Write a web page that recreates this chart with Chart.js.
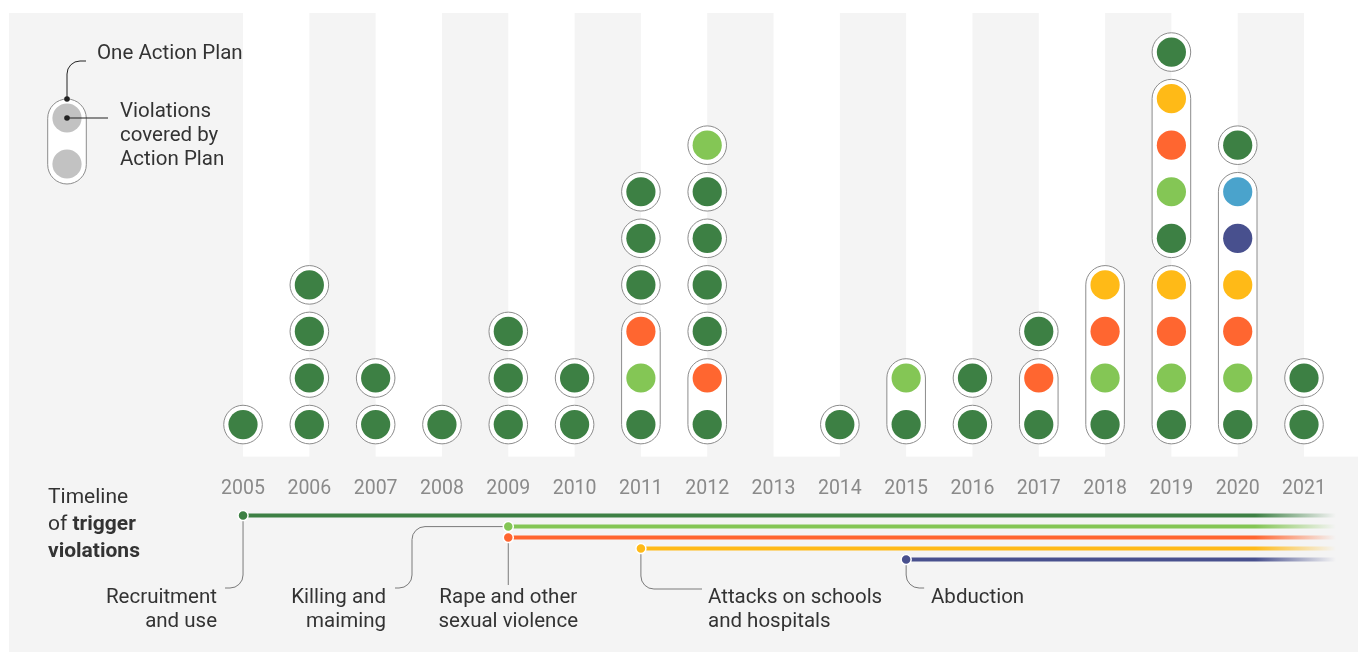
<!DOCTYPE html>
<html>
<head>
<meta charset="utf-8">
<script src="https://cdn.jsdelivr.net/npm/chart.js@4.4.1/dist/chart.umd.min.js"></script>
<style>
  html, body { margin: 0; padding: 0; background: #fff; }
  #chart { display: block; }
</style>
</head>
<body>
<canvas id="chart" width="1358" height="652"></canvas>
<script>
const years = [2005, 2006, 2007, 2008, 2009, 2010, 2011, 2012, 2013, 2014, 2015, 2016, 2017, 2018, 2019, 2020, 2021];

// action plans per year, stacked bottom to top; each string = violations covered by one plan
const plansByYear = [
  ['R'],
  ['R', 'R', 'R', 'R'],
  ['R', 'R'],
  ['R'],
  ['R', 'R', 'R'],
  ['R', 'R'],
  ['RKS', 'R', 'R', 'R'],
  ['RS', 'R', 'R', 'R', 'R', 'K'],
  [],
  ['R'],
  ['RK'],
  ['R', 'R'],
  ['RS', 'R'],
  ['RKSA'],
  ['RKSA', 'RKSA', 'R'],
  ['RKSABH', 'R'],
  ['R', 'R']
];

const violationCodes = ['R', 'K', 'S', 'A', 'B', 'H'];
const violationNames = ['Recruitment and use', 'Killing and maiming', 'Rape and other sexual violence',
  'Attacks on schools and hospitals', 'Abduction', 'Denial of humanitarian access'];
const violationColors = ['#3d8044', '#84c655', '#ff6630', '#ffba17', '#48508e', '#4aa3cc'];

// year each violation became a trigger (first five codes)
const triggerStart = [2005, 2009, 2009, 2011, 2015];
const triggerLabels = [
  ['Recruitment', 'and use'],
  ['Killing and', 'maiming'],
  ['Rape and other', 'sexual violence'],
  ['Attacks on schools', 'and hospitals'],
  ['Abduction']
];

// stack the plans into rows
const points = violationCodes.map(() => []);
const plans = [];
years.forEach((year, i) => {
  let row = 1;
  plansByYear[i].forEach(plan => {
    plans.push({ x: year, from: row, to: row + plan.length - 1 });
    for (const c of plan) {
      points[violationCodes.indexOf(c)].push({ x: year, y: row });
      row++;
    }
  });
});

const RING = 19.3;
const FONT = 'Roboto, "Liberation Sans", sans-serif';
const TEXT = '#333';
const LEADER = '#7a7a7a';

const backdrop = {
  id: 'backdrop',
  beforeDraw(chart) {
    const { ctx, chartArea: a, scales: { x } } = chart;
    ctx.save();
    ctx.fillStyle = '#f4f4f4';
    ctx.fillRect(9, a.top, chart.width - 9, chart.height - a.top);
    ctx.fillStyle = '#fff';
    for (let i = 0; i < years.length; i += 2) {
      const x0 = x.getPixelForValue(years[i]);
      const x1 = i + 1 < years.length ? x.getPixelForValue(years[i + 1]) : a.right;
      ctx.fillRect(x0, a.top, x1 - x0, a.bottom - a.top);
    }
    ctx.restore();
  },
  beforeDatasetsDraw(chart) {
    const { ctx, scales: { x, y } } = chart;
    ctx.save();
    ctx.fillStyle = '#fff';
    ctx.strokeStyle = '#8c8c8c';
    ctx.lineWidth = 1;
    plans.forEach(p => {
      const cx = x.getPixelForValue(p.x);
      const top = y.getPixelForValue(p.to) - RING;
      const bottom = y.getPixelForValue(p.from) + RING;
      ctx.beginPath();
      ctx.roundRect(cx - RING, top, RING * 2, bottom - top, RING);
      ctx.fill();
      ctx.stroke();
    });
    ctx.restore();
  },
  afterDraw(chart) {
    const { ctx, chartArea: a, scales: { x } } = chart;
    ctx.save();

    // timeline of trigger violations
    const lineY = i => a.bottom + 59 + i * 11;
    const fadeFrom = 1255, fadeTo = 1336;

    // leader lines first, dots go on top
    ctx.strokeStyle = LEADER;
    ctx.lineWidth = 1;
    const px = triggerStart.map(v => x.getPixelForValue(v));
    ctx.beginPath();
    ctx.moveTo(px[0], lineY(0));
    ctx.lineTo(px[0], 575);
    ctx.arcTo(px[0], 588, px[0] - 13, 588, 13);
    ctx.lineTo(px[0] - 18, 588);

    ctx.moveTo(px[1], lineY(1));
    ctx.lineTo(425, lineY(1));
    ctx.arcTo(412, lineY(1), 412, lineY(1) + 13, 13);
    ctx.lineTo(412, 575);
    ctx.arcTo(412, 588, 399, 588, 13);
    ctx.lineTo(395, 588);

    ctx.moveTo(px[2], lineY(2));
    ctx.lineTo(px[2], 585);

    ctx.moveTo(px[3], lineY(3));
    ctx.lineTo(px[3], 576);
    ctx.arcTo(px[3], 589, px[3] + 13, 589, 13);
    ctx.lineTo(702, 589);

    ctx.moveTo(px[4], lineY(4));
    ctx.lineTo(px[4], 575);
    ctx.arcTo(px[4], 588, px[4] + 13, 588, 13);
    ctx.lineTo(px[4] + 18, 588);
    ctx.stroke();

    triggerStart.forEach((yr, i) => {
      const col = violationColors[i];
      const ly = lineY(i);
      const g = ctx.createLinearGradient(fadeFrom, 0, fadeTo, 0);
      g.addColorStop(0, col);
      g.addColorStop(1, col + '00');
      ctx.strokeStyle = g;
      ctx.lineWidth = 4;
      ctx.beginPath();
      ctx.moveTo(px[i], ly);
      ctx.lineTo(fadeTo, ly);
      ctx.stroke();

      ctx.beginPath();
      ctx.arc(px[i], ly, 5, 0, Math.PI * 2);
      ctx.fillStyle = col;
      ctx.fill();
      ctx.strokeStyle = '#fff';
      ctx.lineWidth = 1.5;
      ctx.stroke();
    });

    // labels of the trigger violations
    ctx.fillStyle = TEXT;
    ctx.font = '20.5px ' + FONT;
    ctx.textBaseline = 'middle';
    const labelPos = [
      { x: 217, align: 'right' },
      { x: 386, align: 'right' },
      { x: px[2], align: 'center' },
      { x: 708, align: 'left' },
      { x: 931, align: 'left' }
    ];
    triggerLabels.forEach((lines, i) => {
      ctx.textAlign = labelPos[i].align;
      lines.forEach((t, j) => ctx.fillText(t, labelPos[i].x, 598 + j * 24));
    });

    // "Timeline of trigger violations"
    ctx.textAlign = 'left';
    ctx.font = '21px ' + FONT;
    ctx.fillText('Timeline', 48, 498);
    ctx.fillText('of ', 48, 525);
    const w = ctx.measureText('of ').width;
    ctx.font = 'bold 21px ' + FONT;
    ctx.fillText('trigger', 48 + w, 525);
    ctx.fillText('violations', 48, 552);

    // key: one action plan
    const kx = 67;
    ctx.fillStyle = '#fff';
    ctx.strokeStyle = '#8c8c8c';
    ctx.lineWidth = 1;
    ctx.beginPath();
    ctx.roundRect(kx - RING, 99, RING * 2, 85, RING);
    ctx.fill();
    ctx.stroke();
    ctx.fillStyle = '#c2c2c2';
    [118, 164].forEach(cy => {
      ctx.beginPath();
      ctx.arc(kx, cy, 14.6, 0, Math.PI * 2);
      ctx.fill();
    });
    ctx.strokeStyle = '#222';
    ctx.beginPath();
    ctx.moveTo(kx, 99);
    ctx.lineTo(kx, 74);
    ctx.arcTo(kx, 61, kx + 13, 61, 13);
    ctx.lineTo(86, 61);
    ctx.moveTo(kx, 118);
    ctx.lineTo(108, 118);
    ctx.stroke();
    ctx.fillStyle = '#222';
    [99, 118].forEach(cy => {
      ctx.beginPath();
      ctx.arc(kx, cy, 2.8, 0, Math.PI * 2);
      ctx.fill();
    });
    ctx.fillStyle = TEXT;
    ctx.font = '20.5px ' + FONT;
    ctx.fillText('One Action Plan', 97, 54);
    ['Violations', 'covered by', 'Action Plan'].forEach((t, j) => ctx.fillText(t, 120, 112 + j * 24));

    ctx.restore();
  }
};

Chart.defaults.font.family = FONT;

new Chart(document.getElementById('chart'), {
  type: 'scatter',
  data: {
    datasets: violationCodes.map((c, i) => ({
      label: violationNames[i],
      data: points[i],
      backgroundColor: violationColors[i],
      borderWidth: 0,
      pointRadius: 14.6,
      pointHoverRadius: 14.6
    }))
  },
  options: {
    responsive: false,
    animation: false,
    events: [],
    layout: { autoPadding: false, padding: { top: 13, left: 0, right: 0, bottom: 130 } },
    plugins: {
      legend: { display: false },
      tooltip: { enabled: false }
    },
    scales: {
      x: {
        type: 'linear',
        min: 2001.335,
        max: 2021.814,
        grid: { display: false, drawTicks: false },
        border: { display: false },
        afterBuildTicks: scale => { scale.ticks = years.map(v => ({ value: v })); },
        ticks: {
          padding: 21,
          color: '#8a8a8a',
          font: { size: 19.5 },
          maxRotation: 0,
          autoSkip: false,
          callback: v => String(v)
        }
      },
      y: {
        display: false,
        min: 0.312,
        max: 9.839
      }
    }
  },
  plugins: [backdrop]
});
</script>
</body>
</html>
